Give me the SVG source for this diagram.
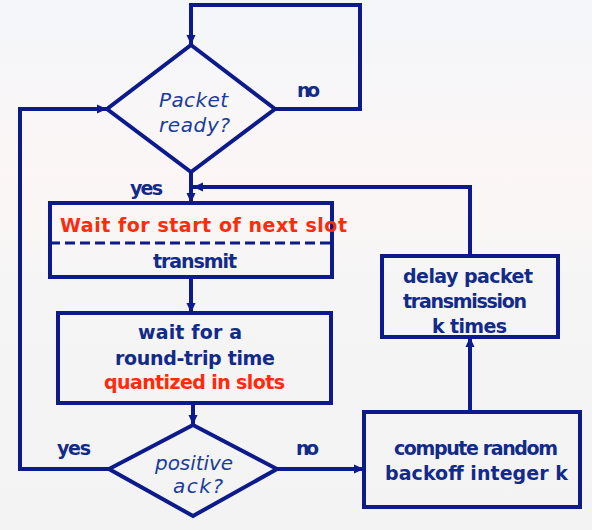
<svg xmlns="http://www.w3.org/2000/svg" width="592" height="530" viewBox="0 0 592 530">
<defs>
<linearGradient id="bg" x1="0" y1="0" x2="0" y2="1">
<stop offset="0" stop-color="#f3f6f9"/>
<stop offset="0.33" stop-color="#fcf6f6"/>
<stop offset="0.55" stop-color="#f5f5f5"/>
<stop offset="1" stop-color="#f3f3f3"/>
</linearGradient>
<marker id="ah" markerUnits="userSpaceOnUse" markerWidth="10" markerHeight="10" viewBox="0 0 10 10" refX="10" refY="5" orient="auto">
<path d="M0,0.5 L10,5 L0,9.5 Z" fill="#0d1a8c"/>
</marker>
</defs>
<style>
.ln{fill:none;stroke:#0d1a8c;stroke-width:4;stroke-linejoin:miter}
.sh{fill:none;stroke:#0d1a8c;stroke-width:4}
.t{font-family:"DejaVu Sans","Liberation Sans",sans-serif;font-weight:bold;font-size:19px;fill:#122a88;text-anchor:middle}
.r{fill:#ff2a0a}
.i{font-style:italic;font-weight:normal;fill:#1a3c9c;font-size:20px}
</style>
<rect width="592" height="530" fill="url(#bg)"/>
<g id="connectors">
<polyline class="ln" points="275,109 360,109 360,5 191,5 191,45" marker-end="url(#ah)"/>
<polyline class="ln" points="109,469 20,469 20,109 107,109" marker-end="url(#ah)"/>
<line class="ln" x1="191" y1="172" x2="191" y2="203" marker-end="url(#ah)"/>
<line class="ln" x1="191" y1="277" x2="191" y2="313" marker-end="url(#ah)"/>
<line class="ln" x1="193" y1="403" x2="193" y2="425" marker-end="url(#ah)"/>
<line class="ln" x1="277" y1="469" x2="364" y2="469" marker-end="url(#ah)"/>
<line class="ln" x1="470" y1="412" x2="470" y2="337" marker-end="url(#ah)"/>
<polyline class="ln" points="470,256 470,187 193,187" marker-end="url(#ah)"/>
<text class="t" x="308.5" y="97" textLength="23">no</text>
<text class="t" x="146.5" y="195" textLength="33">yes</text>
<text class="t" x="74" y="455" textLength="34">yes</text>
<text class="t" x="307.5" y="455" textLength="23">no</text>
</g>
<g id="packet-ready">
<polygon class="sh" points="191,45 275,109 191,172 107,109"/>
<text class="t i" x="193.5" y="107" textLength="69">Packet</text>
<text class="t i" x="194.5" y="132" textLength="71">ready?</text>
</g>
<g id="slot-transmit">
<rect class="sh" x="50" y="203" width="282" height="74"/>
<line x1="50" y1="243" x2="332" y2="243" stroke="#0d1a8c" stroke-width="3" stroke-dasharray="10,5"/>
<text class="t r" x="203.5" y="232" textLength="287">Wait for start of next slot</text>
<text class="t" x="195" y="268" textLength="84">transmit</text>
</g>
<g id="wait-rtt">
<rect class="sh" x="58" y="313" width="273" height="90"/>
<text class="t" x="190" y="339" textLength="104">wait for a</text>
<text class="t" x="195" y="365" textLength="160">round-trip time</text>
<text class="t r" x="194.5" y="389" textLength="181">quantized in slots</text>
</g>
<g id="positive-ack">
<polygon class="sh" points="193,425 277,469 193,516 109,469"/>
<text class="t i" x="194" y="470" textLength="78">positive</text>
<text class="t i" x="198" y="493" textLength="50">ack?</text>
</g>
<g id="compute-backoff">
<rect class="sh" x="364" y="412" width="216" height="95"/>
<text class="t" x="476" y="455" textLength="164">compute random</text>
<text class="t" x="476.5" y="480" textLength="183">backoff integer k</text>
</g>
<g id="delay-packet">
<rect class="sh" x="382" y="256" width="176" height="81"/>
<text class="t" x="468" y="283" textLength="130">delay packet</text>
<text class="t" x="465" y="308" textLength="124">transmission</text>
<text class="t" x="469.5" y="333" textLength="75">k times</text>
</g>
</svg>
